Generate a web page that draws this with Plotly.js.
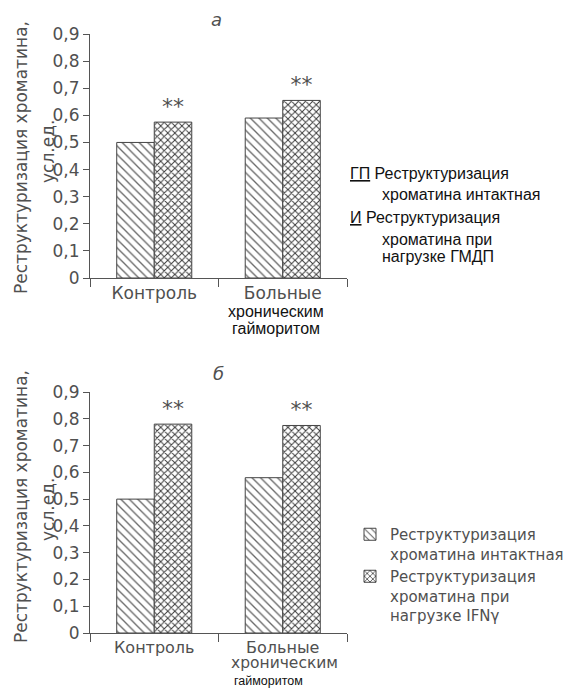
<!DOCTYPE html>
<html><head><meta charset="utf-8">
<script src="https://cdn.plot.ly/plotly-3.0.1.min.js"></script>
<style>html,body{margin:0;padding:0;background:#fff}</style>
</head><body><div id="chart" style="width:584px;height:688px"></div>
<script>
const W = 584, H = 688;
const categories = ['Контроль', 'Больные хроническим гайморитом'];
const tickTextA = ['Контроль', 'Больные'];
const tickTextB = ['Контроль', 'Больные'];
const intactA = [0.50, 0.59];
const gmdpA = [0.575, 0.655];
const intactB = [0.50, 0.58];
const ifnB = [0.78, 0.775];
const starsA = ['**', '**'];
const starsB = ['**', '**'];
const yTickVals = [0, 0.1, 0.2, 0.3, 0.4, 0.5, 0.6, 0.7, 0.8, 0.9];
const yTickText = ['0', '0,1', '0,2', '0,3', '0,4', '0,5', '0,6', '0,7', '0,8', '0,9'];
const seriesNamesB = ['Реструктуризация<br>хроматина интактная', 'Реструктуризация<br>хроматина при<br>нагрузке IFNγ'];
const yTitle1 = 'Реструктуризация хроматина,';
const yTitle2 = 'усл.ед.';
const legendALines = [
  '<span style="text-decoration:underline">ГП</span> Реструктуризация',
  'хроматина интактная',
  '<span style="text-decoration:underline">И</span> Реструктуризация',
  'хроматина при',
  'нагрузке ГМДП'
];
const extraLinesA = ['хроническим', 'гайморитом'];
const extraLinesB = ['хроническим', 'гайморитом'];

const FONT = 'DejaVu Sans';
const GRAY = '#505050';
const px = x => x / W;
const py = y => 1 - y / H;

const hatchPattern = {shape: '\\', size: 6, solidity: 0.22, fgcolor: '#666', bgcolor: '#ffffff'};
const crossPattern = {shape: 'x', size: 5, solidity: 0.35, fgcolor: '#3a3a3a', bgcolor: '#ffffff'};
const outline = {color: '#444', width: 1};

const traces = [
  {type: 'bar', x: categories, y: intactA, xaxis: 'x', yaxis: 'y', showlegend: false,
   marker: {color: '#fff', pattern: hatchPattern, line: outline}, hoverinfo: 'skip'},
  {type: 'bar', x: categories, y: gmdpA, xaxis: 'x', yaxis: 'y', showlegend: false,
   text: starsA, textposition: 'outside', textfont: {family: FONT, size: 22, color: GRAY},
   marker: {color: '#fff', pattern: crossPattern, line: outline}, hoverinfo: 'skip'},
  {type: 'bar', x: categories, y: intactB, xaxis: 'x2', yaxis: 'y2', name: seriesNamesB[0],
   marker: {color: '#fff', pattern: hatchPattern, line: outline}, hoverinfo: 'skip'},
  {type: 'bar', x: categories, y: ifnB, xaxis: 'x2', yaxis: 'y2', name: seriesNamesB[1],
   text: starsB, textposition: 'outside', textfont: {family: FONT, size: 22, color: GRAY},
   marker: {color: '#fff', pattern: crossPattern, line: outline}, hoverinfo: 'skip'}
];

function xAxis(domain, ticktext, anchor, fs) {
  return {domain: domain, anchor: anchor, type: 'category', range: [-0.5, 1.5],
    tickmode: 'array', tickvals: categories, ticktext: ticktext, tickangle: 0, automargin: false,
    tickson: 'boundaries', ticks: 'outside', ticklen: 8, tickcolor: '#555',
    showline: true, linecolor: '#555', linewidth: 1, showgrid: false, zeroline: false,
    tickfont: {family: FONT, size: fs, color: GRAY}, fixedrange: true};
}
function yAxis(domain, anchor) {
  return {domain: domain, anchor: anchor, range: [0, 0.9], tickmode: 'array', automargin: false,
    tickvals: yTickVals, ticktext: yTickText, ticks: 'outside', ticklen: 6, tickcolor: '#555',
    showline: true, linecolor: '#555', linewidth: 1, showgrid: false, zeroline: false,
    tickfont: {family: FONT, size: 17, color: GRAY}, fixedrange: true};
}

const annotations = [];
function ann(text, x, y, opts) {
  annotations.push(Object.assign({text: text, x: px(x), y: py(y), xref: 'paper', yref: 'paper',
    showarrow: false, xanchor: 'center', yanchor: 'middle',
    font: {family: FONT, size: 17, color: GRAY}}, opts || {}));
}
const SMALL = {family: 'Liberation Sans', size: 16, color: '#111'};
// panel titles
ann('а', 216, 19, {font: {family: FONT, size: 18, color: GRAY, style: 'italic'}});
ann('б', 218, 373, {font: {family: FONT, size: 18, color: GRAY, style: 'italic'}});
// y titles
ann(yTitle1, 21, 158, {textangle: -90});
ann(yTitle2, 48, 152, {textangle: -90});
ann(yTitle1, 21, 507, {textangle: -90});
ann(yTitle2, 48, 510, {textangle: -90});
// extra labels under categories
ann(extraLinesA[0], 276, 311, {font: SMALL});
ann(extraLinesA[1], 276, 328, {font: SMALL});
ann(extraLinesB[0], 284, 663, {font: {family: FONT, size: 15.5, color: GRAY}, borderpad: 0});
ann(extraLinesB[1], 268, 681, {font: {family: 'Liberation Sans', size: 12.5, color: '#111'}, borderpad: 0});
// legend a
const legAY = [173, 195, 217, 239, 256];
const legAX = [348, 380, 348, 380, 380];
legendALines.forEach((t, i) => ann(t, legAX[i], legAY[i], {xanchor: 'left', font: SMALL}));

const layout = {
  width: W, height: H, margin: {l: 0, r: 0, t: 0, b: 0, autoexpand: false},
  paper_bgcolor: '#fff', plot_bgcolor: '#fff',
  barmode: 'group', bargap: 0.416, bargroupgap: 0,
  xaxis: xAxis([px(90), px(347)], tickTextA, 'y', 17),
  yaxis: yAxis([py(278), py(34)], 'x'),
  xaxis2: xAxis([px(90), px(347)], tickTextB, 'y2', 16),
  yaxis2: yAxis([py(633), py(392)], 'x2'),
  legend: {x: 350 / W, y: 1 - 518 / H, xref: 'container', yref: 'container', xanchor: 'left', yanchor: 'top',
    font: {family: FONT, size: 15, color: GRAY}, bgcolor: 'rgba(0,0,0,0)', valign: 'top', tracegroupgap: 4},
  annotations: annotations,
  showlegend: true
};

Plotly.newPlot('chart', traces, layout, {displayModeBar: false, staticPlot: true});
</script></body></html>
